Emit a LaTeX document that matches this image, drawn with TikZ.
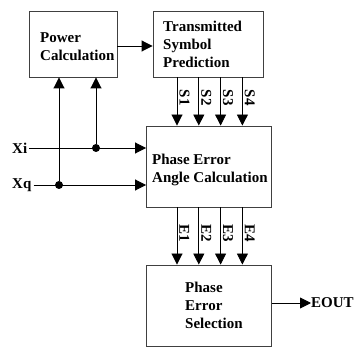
\documentclass[tikz,border=0pt]{standalone}
\usepackage{fontspec}
\setmainfont{Liberation Serif}
\usetikzlibrary{arrows.meta,positioning,calc}

\begin{document}
\begin{tikzpicture}[x=1pt, y=-1pt, >={Triangle[length=11pt,width=11pt]},
  blk/.style={draw=black!75, line width=0.9pt, inner sep=0pt},
  txt/.style={font=\bfseries\fontsize{15}{18}\selectfont, align=left, inner sep=0pt, anchor=west},
  tag/.style={font=\bfseries\fontsize{15}{18}\selectfont, rotate=-90, anchor=south, inner sep=2pt},
  flow/.style={->, line width=0.9pt},
  tap/.style={circle, fill=black, inner sep=0pt, minimum size=8pt}]
  \useasboundingbox (0,0) rectangle (356,347);

  % Blocks
  \node[blk, minimum width=88pt, minimum height=66pt] (pwr) at (73,44) {};
  \node[blk, minimum width=110pt, minimum height=66pt] (tsp) at (208,44) {};
  \node[blk, minimum width=125pt, minimum height=81pt] (peac) at (209,166.5) {};
  \node[blk, minimum width=125pt, minimum height=81pt] (pes) at (209,305.5) {};

  % Block texts
  \node[txt] (pwrt) at (40,46.5) {Power\\Calculation};
  \node[txt] (tspt) at (163,44) {Transmitted\\Symbol\\Prediction};
  \node[txt] (peact) at (152,169.5) {Phase Error\\Angle Calculation};
  \node[txt] (pest) at (185,305.5) {Phase\\Error\\Selection};

  % Inputs
  \node[txt] (xil) at (12,148) {Xi};
  \node[txt] (xql) at (12,185) {Xq};
  \node[tap] (ti) at (96,148) {};
  \node[tap] (tq) at (59,185) {};
  \draw[flow] ([xshift=2pt]xil.east) -- (peac.west |- xil.east);
  \draw[flow] ([xshift=2pt]xql.east) -- (peac.west |- xql.east);
  \draw[flow] (ti) -- (ti |- pwr.south);
  \draw[flow] (tq) -- (tq |- pwr.south);

  % Power to prediction
  \draw[flow] ([yshift=-2pt]pwr.east) -- ([yshift=-2pt]tsp.west);

  % Symbol and error buses
  \foreach \x [count=\i] in {177,198.8,220.6,242.4} {
    \draw[flow] (\x,0 |- tsp.south) -- (\x,0 |- peac.north) node[tag, pos=0.42] {S\i};
    \draw[flow] (\x,0 |- peac.south) -- (\x,0 |- pes.north) node[tag, pos=0.45] {E\i};
  }

  % Output
  \node[txt] (eout) at (311,303) {EOUT};
  \draw[flow] (pes.east |- eout.west) -- (eout.west);
\end{tikzpicture}
\end{document}
